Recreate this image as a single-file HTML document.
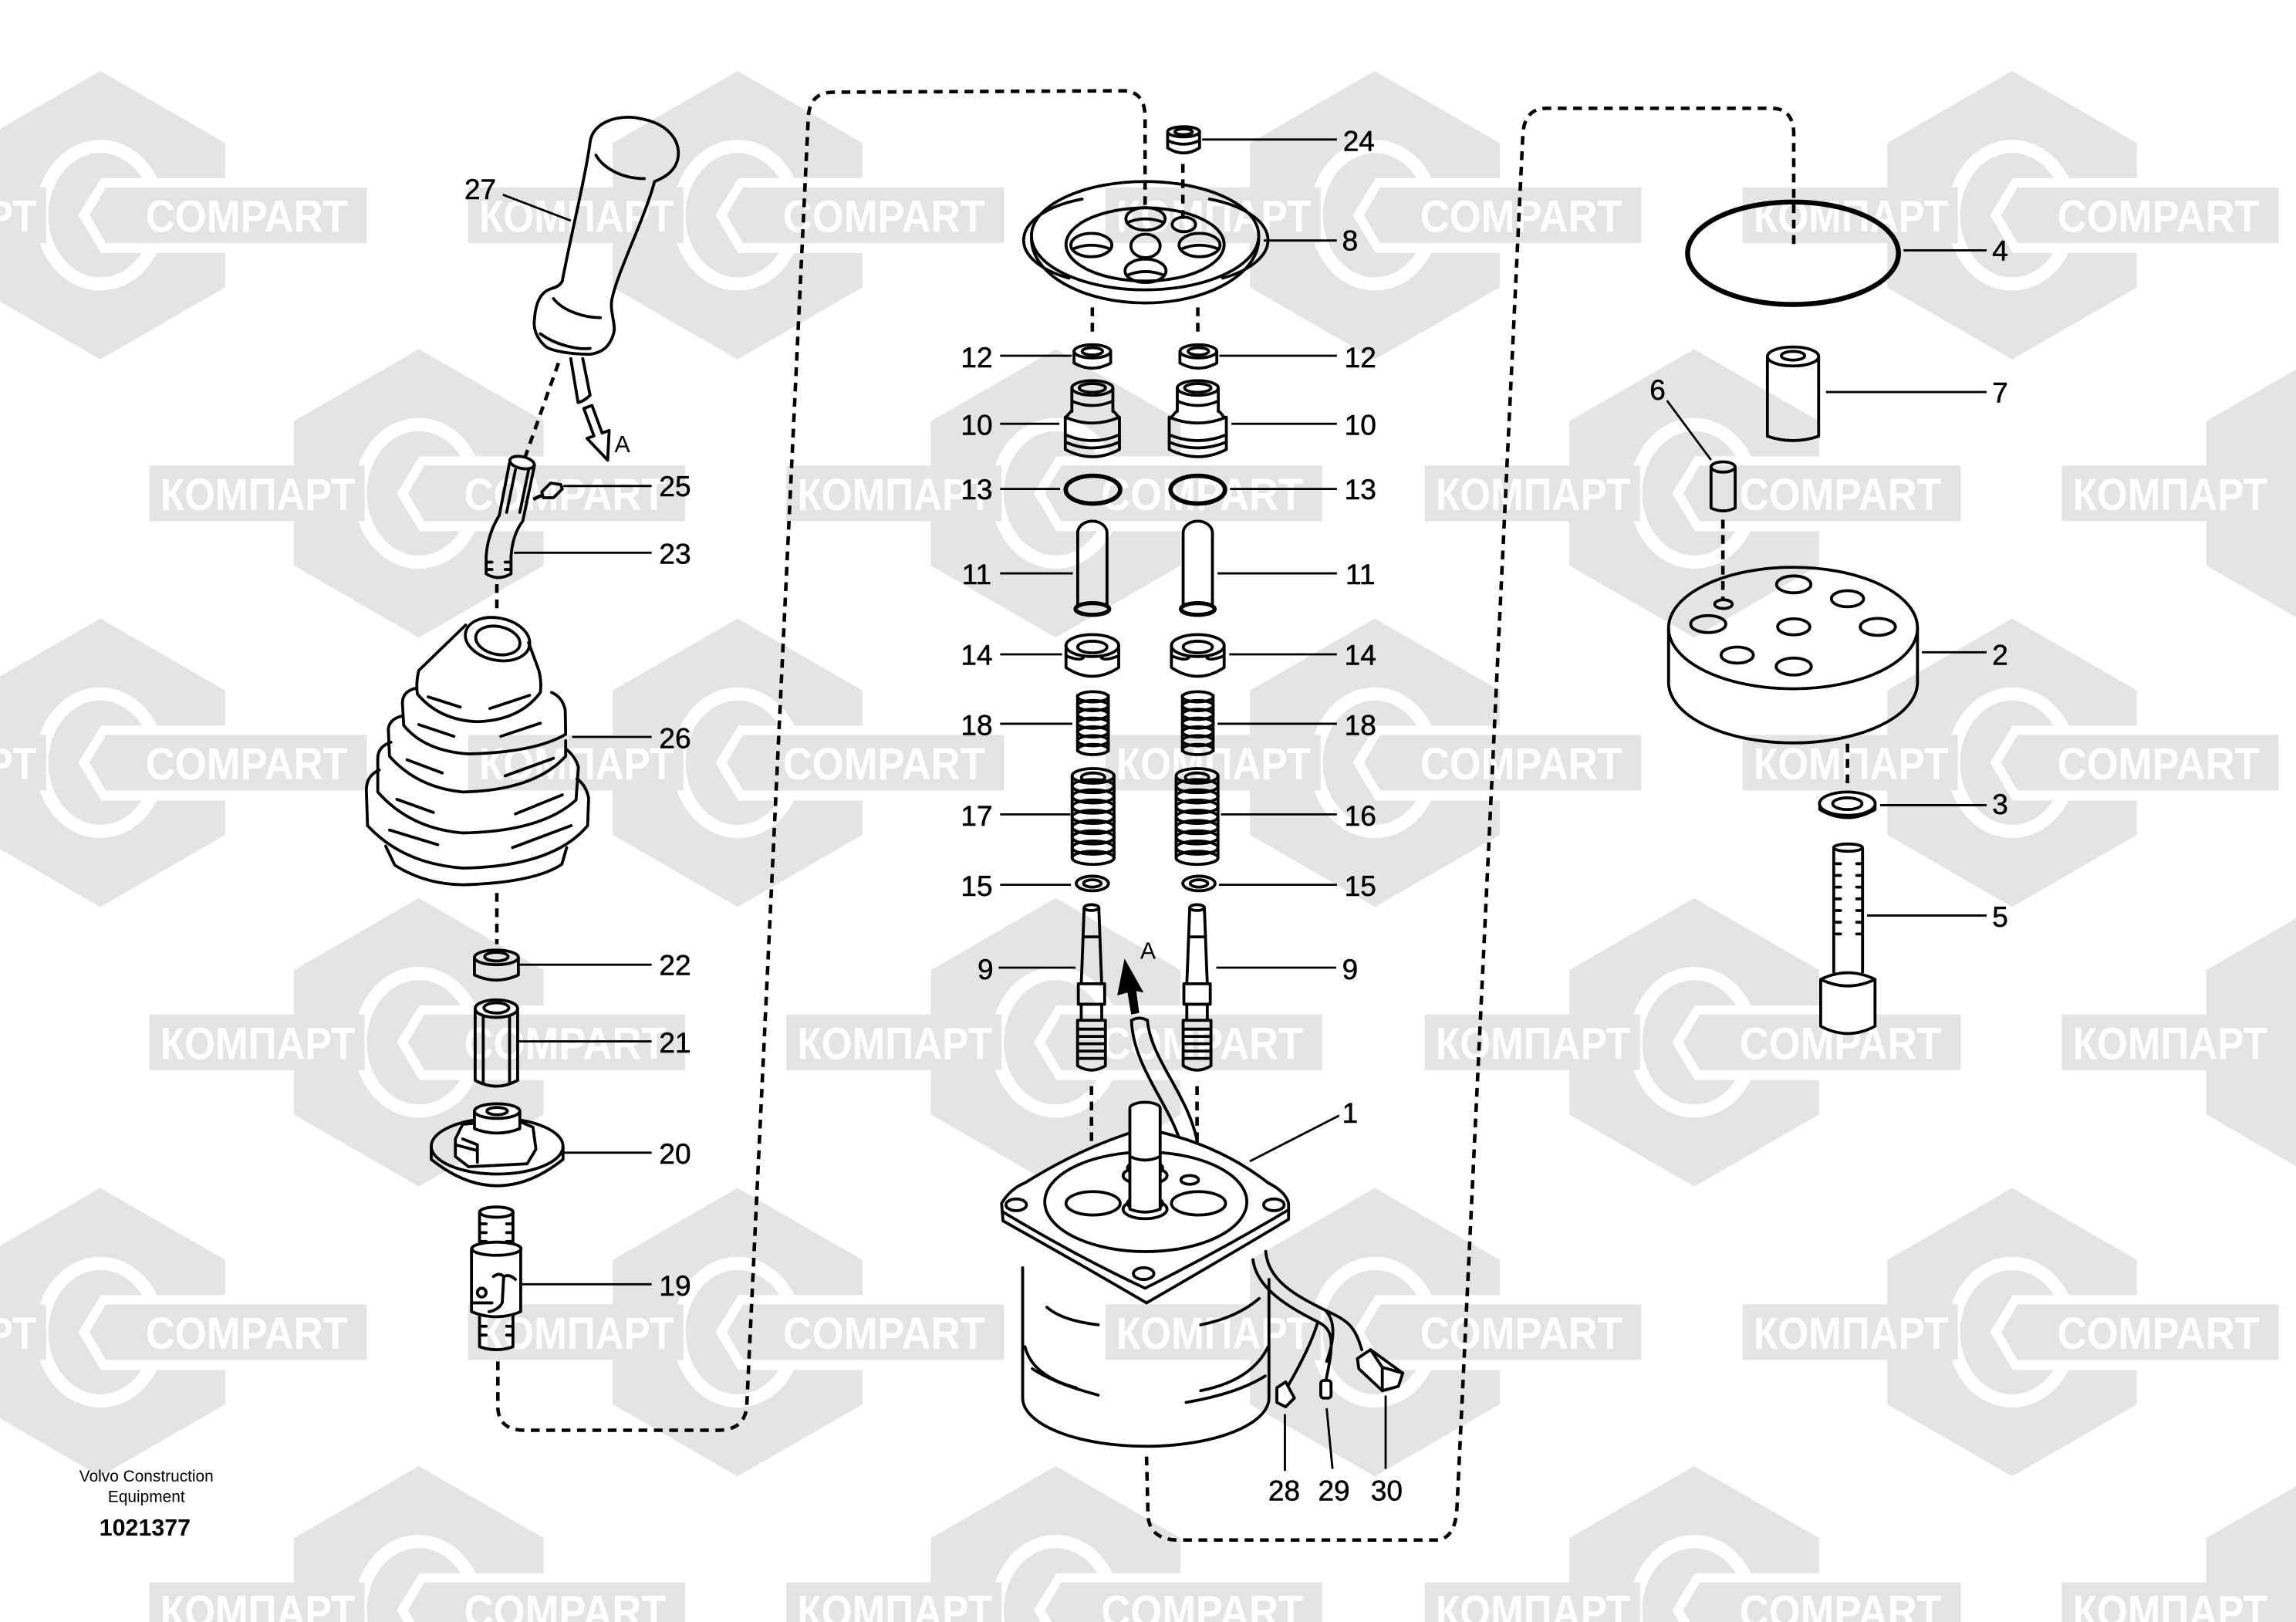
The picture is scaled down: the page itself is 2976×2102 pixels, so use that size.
<!DOCTYPE html>
<html><head><meta charset="utf-8"><style>
html,body{margin:0;padding:0;background:#fff;overflow:hidden;width:2976px;height:2102px;position:relative}
svg{display:block;position:absolute;left:0;top:0}
.h{fill:#e4e4e4}
.w{fill:#fff}
.r{fill:none;stroke:#fff;stroke-width:9}
.t{font-family:"Liberation Sans",sans-serif;font-weight:bold;font-size:31px;fill:#fff;text-anchor:middle}
.p{fill:none;stroke:#000;stroke-width:2;stroke-linejoin:round;stroke-linecap:round}
.pw{fill:#fff;stroke:#000;stroke-width:2;stroke-linejoin:round}
.ld{fill:none;stroke:#000;stroke-width:1.5}
.d{fill:none;stroke:#000;stroke-width:2.4;stroke-dasharray:6 4.5}
.l{font-family:"Liberation Sans",sans-serif;font-size:19.5px;fill:#000;text-anchor:middle;stroke:#000;stroke-width:0.3}
</style></head><body>
<svg width="2976" height="2102" viewBox="0 0 1568 1108" preserveAspectRatio="none" xmlns="http://www.w3.org/2000/svg">
<rect width="1568" height="1108" fill="#fff"/>
<g id="wm">
<g transform="translate(68.5,147)"><polygon class="h" points="0,-98.5 85.3,-49.3 85.3,49.3 0,98.5 -85.3,49.3 -85.3,-49.3"/><ellipse class="r" rx="40" ry="47"/><polygon class="w" points="-15,0 0.5,-25.3 86,-25.3 86,25.8 0.5,25.8"/><polygon class="h" points="-7.4,0 3.7,-19 182,-19 182,19 3.7,19"/><text class="t" x="100" y="11.5" textLength="138" lengthAdjust="spacingAndGlyphs">COMPART</text><rect class="h" x="-184" y="-19" width="147" height="38"/><text class="t" x="-110" y="11.5" textLength="133" lengthAdjust="spacingAndGlyphs">КОМПАРТ</text></g>
<g transform="translate(503.7,147)"><polygon class="h" points="0,-98.5 85.3,-49.3 85.3,49.3 0,98.5 -85.3,49.3 -85.3,-49.3"/><ellipse class="r" rx="40" ry="47"/><polygon class="w" points="-15,0 0.5,-25.3 86,-25.3 86,25.8 0.5,25.8"/><polygon class="h" points="-7.4,0 3.7,-19 182,-19 182,19 3.7,19"/><text class="t" x="100" y="11.5" textLength="138" lengthAdjust="spacingAndGlyphs">COMPART</text><rect class="h" x="-184" y="-19" width="147" height="38"/><text class="t" x="-110" y="11.5" textLength="133" lengthAdjust="spacingAndGlyphs">КОМПАРТ</text></g>
<g transform="translate(938.9,147)"><polygon class="h" points="0,-98.5 85.3,-49.3 85.3,49.3 0,98.5 -85.3,49.3 -85.3,-49.3"/><ellipse class="r" rx="40" ry="47"/><polygon class="w" points="-15,0 0.5,-25.3 86,-25.3 86,25.8 0.5,25.8"/><polygon class="h" points="-7.4,0 3.7,-19 182,-19 182,19 3.7,19"/><text class="t" x="100" y="11.5" textLength="138" lengthAdjust="spacingAndGlyphs">COMPART</text><rect class="h" x="-184" y="-19" width="147" height="38"/><text class="t" x="-110" y="11.5" textLength="133" lengthAdjust="spacingAndGlyphs">КОМПАРТ</text></g>
<g transform="translate(1374.1,147)"><polygon class="h" points="0,-98.5 85.3,-49.3 85.3,49.3 0,98.5 -85.3,49.3 -85.3,-49.3"/><ellipse class="r" rx="40" ry="47"/><polygon class="w" points="-15,0 0.5,-25.3 86,-25.3 86,25.8 0.5,25.8"/><polygon class="h" points="-7.4,0 3.7,-19 182,-19 182,19 3.7,19"/><text class="t" x="100" y="11.5" textLength="138" lengthAdjust="spacingAndGlyphs">COMPART</text><rect class="h" x="-184" y="-19" width="147" height="38"/><text class="t" x="-110" y="11.5" textLength="133" lengthAdjust="spacingAndGlyphs">КОМПАРТ</text></g>

<g transform="translate(286,337)"><polygon class="h" points="0,-98.5 85.3,-49.3 85.3,49.3 0,98.5 -85.3,49.3 -85.3,-49.3"/><ellipse class="r" rx="40" ry="47"/><polygon class="w" points="-15,0 0.5,-25.3 86,-25.3 86,25.8 0.5,25.8"/><polygon class="h" points="-7.4,0 3.7,-19 182,-19 182,19 3.7,19"/><text class="t" x="100" y="11.5" textLength="138" lengthAdjust="spacingAndGlyphs">COMPART</text><rect class="h" x="-184" y="-19" width="147" height="38"/><text class="t" x="-110" y="11.5" textLength="133" lengthAdjust="spacingAndGlyphs">КОМПАРТ</text></g>
<g transform="translate(721,337)"><polygon class="h" points="0,-98.5 85.3,-49.3 85.3,49.3 0,98.5 -85.3,49.3 -85.3,-49.3"/><ellipse class="r" rx="40" ry="47"/><polygon class="w" points="-15,0 0.5,-25.3 86,-25.3 86,25.8 0.5,25.8"/><polygon class="h" points="-7.4,0 3.7,-19 182,-19 182,19 3.7,19"/><text class="t" x="100" y="11.5" textLength="138" lengthAdjust="spacingAndGlyphs">COMPART</text><rect class="h" x="-184" y="-19" width="147" height="38"/><text class="t" x="-110" y="11.5" textLength="133" lengthAdjust="spacingAndGlyphs">КОМПАРТ</text></g>
<g transform="translate(1157,337)"><polygon class="h" points="0,-98.5 85.3,-49.3 85.3,49.3 0,98.5 -85.3,49.3 -85.3,-49.3"/><ellipse class="r" rx="40" ry="47"/><polygon class="w" points="-15,0 0.5,-25.3 86,-25.3 86,25.8 0.5,25.8"/><polygon class="h" points="-7.4,0 3.7,-19 182,-19 182,19 3.7,19"/><text class="t" x="100" y="11.5" textLength="138" lengthAdjust="spacingAndGlyphs">COMPART</text><rect class="h" x="-184" y="-19" width="147" height="38"/><text class="t" x="-110" y="11.5" textLength="133" lengthAdjust="spacingAndGlyphs">КОМПАРТ</text></g>
<g transform="translate(1592,337)"><polygon class="h" points="0,-98.5 85.3,-49.3 85.3,49.3 0,98.5 -85.3,49.3 -85.3,-49.3"/><rect class="h" x="-184" y="-19" width="147" height="38"/><text class="t" x="-110" y="11.5" textLength="133" lengthAdjust="spacingAndGlyphs">КОМПАРТ</text></g>

<g transform="translate(68.5,521)"><polygon class="h" points="0,-98.5 85.3,-49.3 85.3,49.3 0,98.5 -85.3,49.3 -85.3,-49.3"/><ellipse class="r" rx="40" ry="47"/><polygon class="w" points="-15,0 0.5,-25.3 86,-25.3 86,25.8 0.5,25.8"/><polygon class="h" points="-7.4,0 3.7,-19 182,-19 182,19 3.7,19"/><text class="t" x="100" y="11.5" textLength="138" lengthAdjust="spacingAndGlyphs">COMPART</text><rect class="h" x="-184" y="-19" width="147" height="38"/><text class="t" x="-110" y="11.5" textLength="133" lengthAdjust="spacingAndGlyphs">КОМПАРТ</text></g>
<g transform="translate(503.7,521)"><polygon class="h" points="0,-98.5 85.3,-49.3 85.3,49.3 0,98.5 -85.3,49.3 -85.3,-49.3"/><ellipse class="r" rx="40" ry="47"/><polygon class="w" points="-15,0 0.5,-25.3 86,-25.3 86,25.8 0.5,25.8"/><polygon class="h" points="-7.4,0 3.7,-19 182,-19 182,19 3.7,19"/><text class="t" x="100" y="11.5" textLength="138" lengthAdjust="spacingAndGlyphs">COMPART</text><rect class="h" x="-184" y="-19" width="147" height="38"/><text class="t" x="-110" y="11.5" textLength="133" lengthAdjust="spacingAndGlyphs">КОМПАРТ</text></g>
<g transform="translate(938.9,521)"><polygon class="h" points="0,-98.5 85.3,-49.3 85.3,49.3 0,98.5 -85.3,49.3 -85.3,-49.3"/><ellipse class="r" rx="40" ry="47"/><polygon class="w" points="-15,0 0.5,-25.3 86,-25.3 86,25.8 0.5,25.8"/><polygon class="h" points="-7.4,0 3.7,-19 182,-19 182,19 3.7,19"/><text class="t" x="100" y="11.5" textLength="138" lengthAdjust="spacingAndGlyphs">COMPART</text><rect class="h" x="-184" y="-19" width="147" height="38"/><text class="t" x="-110" y="11.5" textLength="133" lengthAdjust="spacingAndGlyphs">КОМПАРТ</text></g>
<g transform="translate(1374.1,521)"><polygon class="h" points="0,-98.5 85.3,-49.3 85.3,49.3 0,98.5 -85.3,49.3 -85.3,-49.3"/><ellipse class="r" rx="40" ry="47"/><polygon class="w" points="-15,0 0.5,-25.3 86,-25.3 86,25.8 0.5,25.8"/><polygon class="h" points="-7.4,0 3.7,-19 182,-19 182,19 3.7,19"/><text class="t" x="100" y="11.5" textLength="138" lengthAdjust="spacingAndGlyphs">COMPART</text><rect class="h" x="-184" y="-19" width="147" height="38"/><text class="t" x="-110" y="11.5" textLength="133" lengthAdjust="spacingAndGlyphs">КОМПАРТ</text></g>

<g transform="translate(286,712)"><polygon class="h" points="0,-98.5 85.3,-49.3 85.3,49.3 0,98.5 -85.3,49.3 -85.3,-49.3"/><ellipse class="r" rx="40" ry="47"/><polygon class="w" points="-15,0 0.5,-25.3 86,-25.3 86,25.8 0.5,25.8"/><polygon class="h" points="-7.4,0 3.7,-19 182,-19 182,19 3.7,19"/><text class="t" x="100" y="11.5" textLength="138" lengthAdjust="spacingAndGlyphs">COMPART</text><rect class="h" x="-184" y="-19" width="147" height="38"/><text class="t" x="-110" y="11.5" textLength="133" lengthAdjust="spacingAndGlyphs">КОМПАРТ</text></g>
<g transform="translate(721,712)"><polygon class="h" points="0,-98.5 85.3,-49.3 85.3,49.3 0,98.5 -85.3,49.3 -85.3,-49.3"/><ellipse class="r" rx="40" ry="47"/><polygon class="w" points="-15,0 0.5,-25.3 86,-25.3 86,25.8 0.5,25.8"/><polygon class="h" points="-7.4,0 3.7,-19 182,-19 182,19 3.7,19"/><text class="t" x="100" y="11.5" textLength="138" lengthAdjust="spacingAndGlyphs">COMPART</text><rect class="h" x="-184" y="-19" width="147" height="38"/><text class="t" x="-110" y="11.5" textLength="133" lengthAdjust="spacingAndGlyphs">КОМПАРТ</text></g>
<g transform="translate(1157,712)"><polygon class="h" points="0,-98.5 85.3,-49.3 85.3,49.3 0,98.5 -85.3,49.3 -85.3,-49.3"/><ellipse class="r" rx="40" ry="47"/><polygon class="w" points="-15,0 0.5,-25.3 86,-25.3 86,25.8 0.5,25.8"/><polygon class="h" points="-7.4,0 3.7,-19 182,-19 182,19 3.7,19"/><text class="t" x="100" y="11.5" textLength="138" lengthAdjust="spacingAndGlyphs">COMPART</text><rect class="h" x="-184" y="-19" width="147" height="38"/><text class="t" x="-110" y="11.5" textLength="133" lengthAdjust="spacingAndGlyphs">КОМПАРТ</text></g>
<g transform="translate(1592,712)"><polygon class="h" points="0,-98.5 85.3,-49.3 85.3,49.3 0,98.5 -85.3,49.3 -85.3,-49.3"/><rect class="h" x="-184" y="-19" width="147" height="38"/><text class="t" x="-110" y="11.5" textLength="133" lengthAdjust="spacingAndGlyphs">КОМПАРТ</text></g>

<g transform="translate(68.5,910)"><polygon class="h" points="0,-98.5 85.3,-49.3 85.3,49.3 0,98.5 -85.3,49.3 -85.3,-49.3"/><ellipse class="r" rx="40" ry="47"/><polygon class="w" points="-15,0 0.5,-25.3 86,-25.3 86,25.8 0.5,25.8"/><polygon class="h" points="-7.4,0 3.7,-19 182,-19 182,19 3.7,19"/><text class="t" x="100" y="11.5" textLength="138" lengthAdjust="spacingAndGlyphs">COMPART</text><rect class="h" x="-184" y="-19" width="147" height="38"/><text class="t" x="-110" y="11.5" textLength="133" lengthAdjust="spacingAndGlyphs">КОМПАРТ</text></g>
<g transform="translate(503.7,910)"><polygon class="h" points="0,-98.5 85.3,-49.3 85.3,49.3 0,98.5 -85.3,49.3 -85.3,-49.3"/><ellipse class="r" rx="40" ry="47"/><polygon class="w" points="-15,0 0.5,-25.3 86,-25.3 86,25.8 0.5,25.8"/><polygon class="h" points="-7.4,0 3.7,-19 182,-19 182,19 3.7,19"/><text class="t" x="100" y="11.5" textLength="138" lengthAdjust="spacingAndGlyphs">COMPART</text><rect class="h" x="-184" y="-19" width="147" height="38"/><text class="t" x="-110" y="11.5" textLength="133" lengthAdjust="spacingAndGlyphs">КОМПАРТ</text></g>
<g transform="translate(938.9,910)"><polygon class="h" points="0,-98.5 85.3,-49.3 85.3,49.3 0,98.5 -85.3,49.3 -85.3,-49.3"/><ellipse class="r" rx="40" ry="47"/><polygon class="w" points="-15,0 0.5,-25.3 86,-25.3 86,25.8 0.5,25.8"/><polygon class="h" points="-7.4,0 3.7,-19 182,-19 182,19 3.7,19"/><text class="t" x="100" y="11.5" textLength="138" lengthAdjust="spacingAndGlyphs">COMPART</text><rect class="h" x="-184" y="-19" width="147" height="38"/><text class="t" x="-110" y="11.5" textLength="133" lengthAdjust="spacingAndGlyphs">КОМПАРТ</text></g>
<g transform="translate(1374.1,910)"><polygon class="h" points="0,-98.5 85.3,-49.3 85.3,49.3 0,98.5 -85.3,49.3 -85.3,-49.3"/><ellipse class="r" rx="40" ry="47"/><polygon class="w" points="-15,0 0.5,-25.3 86,-25.3 86,25.8 0.5,25.8"/><polygon class="h" points="-7.4,0 3.7,-19 182,-19 182,19 3.7,19"/><text class="t" x="100" y="11.5" textLength="138" lengthAdjust="spacingAndGlyphs">COMPART</text><rect class="h" x="-184" y="-19" width="147" height="38"/><text class="t" x="-110" y="11.5" textLength="133" lengthAdjust="spacingAndGlyphs">КОМПАРТ</text></g>

<g transform="translate(286,1100)"><polygon class="h" points="0,-98.5 85.3,-49.3 85.3,49.3 0,98.5 -85.3,49.3 -85.3,-49.3"/><ellipse class="r" rx="40" ry="47"/><polygon class="w" points="-15,0 0.5,-25.3 86,-25.3 86,25.8 0.5,25.8"/><polygon class="h" points="-7.4,0 3.7,-19 182,-19 182,19 3.7,19"/><text class="t" x="100" y="11.5" textLength="138" lengthAdjust="spacingAndGlyphs">COMPART</text><rect class="h" x="-184" y="-19" width="147" height="38"/><text class="t" x="-110" y="11.5" textLength="133" lengthAdjust="spacingAndGlyphs">КОМПАРТ</text></g>
<g transform="translate(721,1100)"><polygon class="h" points="0,-98.5 85.3,-49.3 85.3,49.3 0,98.5 -85.3,49.3 -85.3,-49.3"/><ellipse class="r" rx="40" ry="47"/><polygon class="w" points="-15,0 0.5,-25.3 86,-25.3 86,25.8 0.5,25.8"/><polygon class="h" points="-7.4,0 3.7,-19 182,-19 182,19 3.7,19"/><text class="t" x="100" y="11.5" textLength="138" lengthAdjust="spacingAndGlyphs">COMPART</text><rect class="h" x="-184" y="-19" width="147" height="38"/><text class="t" x="-110" y="11.5" textLength="133" lengthAdjust="spacingAndGlyphs">КОМПАРТ</text></g>
<g transform="translate(1157,1100)"><polygon class="h" points="0,-98.5 85.3,-49.3 85.3,49.3 0,98.5 -85.3,49.3 -85.3,-49.3"/><ellipse class="r" rx="40" ry="47"/><polygon class="w" points="-15,0 0.5,-25.3 86,-25.3 86,25.8 0.5,25.8"/><polygon class="h" points="-7.4,0 3.7,-19 182,-19 182,19 3.7,19"/><text class="t" x="100" y="11.5" textLength="138" lengthAdjust="spacingAndGlyphs">COMPART</text><rect class="h" x="-184" y="-19" width="147" height="38"/><text class="t" x="-110" y="11.5" textLength="133" lengthAdjust="spacingAndGlyphs">КОМПАРТ</text></g>
<g transform="translate(1592,1100)"><polygon class="h" points="0,-98.5 85.3,-49.3 85.3,49.3 0,98.5 -85.3,49.3 -85.3,-49.3"/><rect class="h" x="-184" y="-19" width="147" height="38"/><text class="t" x="-110" y="11.5" textLength="133" lengthAdjust="spacingAndGlyphs">КОМПАРТ</text></g>
</g>

<path class="d" d="M340,930 L340,962 Q341,977 358,977 L490,977 Q509,977 510,960 L552,80 Q553,63 569,63 L768,62 Q782,63 782,80 L782,143"/>
<path class="d" d="M783,995 L784,1035 Q785,1052 805,1052 L980,1052 Q994,1052 995,1030 L1040,92 Q1041,74 1056,74 L1210,74 Q1224,74 1225,90 L1225,171"/>
<path class="d" d="M381.4,248 L358.8,311.7 M369.6,338.5 L358.8,343.6 M339.3,399 L339.3,420 M339.3,610 L339.3,645 M807.8,112 L807.8,150 M746,210 L746,231 M818,210 L818,231 M745.4,742 L745.4,820 M817.5,742 L817.5,820 M1176.6,355 L1176.6,409 M1261.7,508 L1261.7,538"/>

<path class="p" d="M403,97 C405,82 425,78 437,81 C455,84 465,95 463,108 C461,118 452,122 447,124 C440,150 422,185 418,204 C416,212 421,222 419,228 C416,238 410,241 403,242 C390,242 378,240 373,237 C367,232 364,225 365,218 C366,205 370,199 377,197 C381,196 383,194 384,192 C390,160 400,120 403,97 Z"/>
<path class="p" d="M407,106 C412,115 425,122 440,122 M378,204 C385,213 400,217 410,217 M369,228 C380,236 395,239 403,238 M389.8,245 L394.8,275 M398,245 L403,270 M394.8,275 Q399,274 403,270"/>
<polygon class="pw" points="398.7,279 404.3,277 411.2,295.8 416,294 415,314.3 400.9,299.5 405.6,297.8"/>
<text x="425" y="309" font-family="Liberation Sans,sans-serif" font-size="16" text-anchor="middle">A</text>
<polygon class="p" points="370,336 376,330 383,331 384,334 378,340 371,340"/>
<path class="p" d="M348,316 L341,352 Q333,365 332,380 L332,392 Q340,397 349,392 L349,380 Q350,365 357,356 L365,318"/>
<ellipse class="p" cx="356.5" cy="316" rx="8.5" ry="4" transform="rotate(12 356.5 316)"/>
<path class="p" d="M352,321 L346,350 M361,321 L355,350 M333,384 L336,384 M345,384 L348,384 M333,389 L336,389 M345,389 L348,389"/>
<ellipse class="p" cx="339.8" cy="436.6" rx="22.3" ry="14.4" transform="rotate(12 339.8 436.6)"/>
<ellipse class="p" cx="340" cy="437.5" rx="15.3" ry="9.5" transform="rotate(12 340 437.5)"/>
<path class="p" d="M318,427 L286,458 Q284,466 285,474 M361,439 L368,458 Q370,466 369,473 M285,474 Q300,492 326,493 Q355,492 369,473"/>
<path class="p" d="M284.5,470 Q275,472 274.8,480 L275.7,495.5 Q290,513 320,515 Q365,514 386.3,501.6 L386,485 Q384,476 376.7,473"/>
<path class="p" d="M275,489 Q266,491 265.2,498 L266,516.6 Q285,538 316,541 Q365,540 386.3,516.6 L386.3,506"/>
<path class="p" d="M267,507 Q258,510 258,518 L258,541 Q280,566 316,569 Q370,568 393.4,546.4 L395,524 Q393,517 387,512"/>
<path class="p" d="M259,526 Q250,530 250.2,540 L251,564 Q275,590 316,593 Q378,592 401.3,564 L402,545 Q400,536 394,532"/>
<path class="p" d="M263.4,578 L269.6,591 Q290,604 316,604.4 Q365,603 383.7,590.4 L387,579"/>
<path class="p" d="M292.4,476 L314.3,483 M334.5,484 L361.7,475 M286,495 L310,503 M342,503 L369,494 M278,519 L302,528 M345,530 L378,518 M271,546 L296,555 M352,556 L384,543 M266,567 L299,577 M350,579 L390,564"/>
<path class="p" d="M324,654 L324,666 Q339,673 354,666 L354,654"/>
<ellipse class="p" cx="339" cy="654" rx="15" ry="5"/><ellipse class="p" cx="339" cy="653.5" rx="8" ry="3"/>
<path class="p" d="M324.5,689 L324.5,738 Q339,746 353.5,738 L353.5,689 M330,694 L330,740 M348,694 L348,740"/>
<ellipse class="p" cx="339" cy="689" rx="14.5" ry="6"/><ellipse class="p" cx="339" cy="688.5" rx="8.5" ry="3.5"/>
<ellipse class="p" cx="339.5" cy="783" rx="45" ry="19"/>
<path class="p" d="M294.5,783 L294.5,792 Q339.5,828 384.5,792 L384.5,783"/>
<path class="pw" d="M311,778 L316,768 L352,765 L364,770 L366,785 L360,795 L320,797 L311,790 Z"/>
<path class="p" d="M316,778 L326,782 L326,794 M311,782 L326,786"/>
<path class="pw" d="M324,759 L324,771 Q339.5,777 355,771 L355,759"/>
<ellipse class="pw" cx="339.5" cy="759" rx="15.5" ry="5"/><ellipse class="p" cx="339.5" cy="759" rx="7" ry="2.5"/>
<path class="p" d="M327.5,828 L327.5,856 M350.3,828 L350.3,856"/>
<ellipse class="p" cx="339" cy="828" rx="11.4" ry="3.5"/>
<path class="p" d="M329,836 L332,836 M329,842 L332,842 M329,848 L332,848 M346,836 L349,836 M346,842 L349,842 M346,848 L349,848"/>
<path class="pw" d="M322,853 L322,896 Q339,903 355.6,896 L355.6,853"/>
<ellipse class="pw" cx="339" cy="853" rx="16.8" ry="4.5"/>
<circle class="p" cx="329" cy="883" r="3"/>
<path class="p" d="M337,872 Q341,869 344,872 L343,890 Q340,895 334,896 M344,872 Q348,870 352,874 M322,890 L336,890"/>
<path class="p" d="M327.5,899 L327.5,920 Q339,924 350.3,920 L350.3,899 M329,906 L332,906 M329,912 L332,912 M346,906 L349,906 M346,912 L349,912"/>

<path class="p" d="M797.4,90 L797.4,101 Q808.3,108 819.2,101 L819.2,90 M797.4,96 Q808.3,101 819.2,96"/>
<ellipse class="p" cx="808.3" cy="90" rx="10.9" ry="3.5"/><ellipse class="p" cx="808.3" cy="90" rx="6" ry="2"/>
<ellipse class="p" cx="782" cy="161" rx="77.6" ry="37"/>
<path class="p" d="M704.4,163 A77.6 44 0 0 0 859.6,163"/>
<path class="p" d="M739,136 A62 30 0 0 0 730,190 M826,136 A62 30 0 0 1 835,190"/>
<ellipse class="p" cx="782" cy="167" rx="54" ry="25"/>
<ellipse class="p" cx="782.3" cy="149.5" rx="13.4" ry="7.7"/><path class="p" d="M770,152 Q782,147 795,152"/>
<ellipse class="p" cx="808.5" cy="153.3" rx="8" ry="5"/>
<ellipse class="p" cx="745.3" cy="167.4" rx="14" ry="8"/><path class="p" d="M733,170 Q745,165 758,170"/>
<ellipse class="p" cx="782.3" cy="168" rx="10" ry="8"/>
<ellipse class="p" cx="819.2" cy="167.4" rx="14" ry="8"/><path class="p" d="M807,170 Q819,165 832,170"/>
<ellipse class="p" cx="782.3" cy="185" rx="14" ry="8"/><path class="p" d="M770,188 Q782,183 795,188"/>
<g><path class="p" d="M733.5,240 L733.5,248 Q746,255 758.5,248 L758.5,240"/><ellipse class="p" cx="746" cy="240" rx="12.5" ry="4.5"/><ellipse class="p" cx="746" cy="240" rx="7" ry="2.5"/></g>
<g><path class="p" d="M805.8,240 L805.8,248 Q818.4,255 831,248 L831,240"/><ellipse class="p" cx="818.4" cy="240" rx="12.5" ry="4.5"/><ellipse class="p" cx="818.4" cy="240" rx="7" ry="2.5"/></g>
<g transform="translate(746,0)"><ellipse class="p" cx="0" cy="265" rx="14" ry="5"/><ellipse class="p" cx="0" cy="265" rx="9" ry="3"/><path class="p" d="M-14,265 L-14,281 M14,265 L14,281 M-14,274 Q0,280 14,274 M-18,285 Q-14,280 -14,281 M18,285 Q14,280 14,281 M-18.5,285 L-18.5,307 Q0,317 18.5,307 L18.5,285 Q0,293 -18.5,285 M-18.5,297 Q0,305 18.5,297 M-18.5,302 Q0,310 18.5,302"/></g>
<g transform="translate(818,0)"><ellipse class="p" cx="0" cy="265" rx="14" ry="5"/><ellipse class="p" cx="0" cy="265" rx="9" ry="3"/><path class="p" d="M-14,265 L-14,281 M14,265 L14,281 M-14,274 Q0,280 14,274 M-18,285 Q-14,280 -14,281 M18,285 Q14,280 14,281 M-19.5,285 L-19.5,307 Q0,317 19.5,307 L19.5,285 Q0,293 -19.5,285 M-19.5,297 Q0,305 19.5,297 M-19.5,302 Q0,310 19.5,302"/></g>
<ellipse cx="746.4" cy="334.5" rx="18.6" ry="9.5" fill="none" stroke="#000" stroke-width="3"/>
<ellipse cx="818" cy="334.5" rx="18.6" ry="9.5" fill="none" stroke="#000" stroke-width="3"/>
<path class="p" d="M736,413 L736,364 A10 8 0 0 1 756,364 L756,413"/><ellipse cx="746" cy="416" rx="11.5" ry="4" fill="none" stroke="#000" stroke-width="2.8"/>
<path class="p" d="M808,413 L808,364 A10 8 0 0 1 828,364 L828,413"/><ellipse cx="818" cy="416" rx="11.5" ry="4" fill="none" stroke="#000" stroke-width="2.8"/>
<g transform="translate(746,0)"><ellipse class="p" cx="0" cy="441" rx="18" ry="7.5"/><ellipse class="p" cx="0" cy="442" rx="10" ry="4"/><path class="p" d="M-18,441 L-18,456 Q0,468 18,456 L18,441 M-18,448 Q-8,452 -6,449 M18,448 Q8,452 6,449"/></g>
<g transform="translate(818,0)"><ellipse class="p" cx="0" cy="441" rx="18" ry="7.5"/><ellipse class="p" cx="0" cy="442" rx="10" ry="4"/><path class="p" d="M-18,441 L-18,456 Q0,468 18,456 L18,441 M-18,448 Q-8,452 -6,449 M18,448 Q8,452 6,449"/></g>
<g transform="translate(746.4,0)"><path class="p" d="M-10.5,475 L-10.5,513 M10.5,475 L10.5,513"/><ellipse class="p" cx="0" cy="476" rx="10.5" ry="3.5"/><ellipse class="p" cx="0" cy="482" rx="10.5" ry="3.5"/><ellipse class="p" cx="0" cy="488" rx="10.5" ry="3.5"/><ellipse class="p" cx="0" cy="494" rx="10.5" ry="3.5"/><ellipse class="p" cx="0" cy="500" rx="10.5" ry="3.5"/><ellipse class="p" cx="0" cy="506" rx="10.5" ry="3.5"/><ellipse class="p" cx="0" cy="512" rx="10.5" ry="3.5"/></g>
<g transform="translate(818,0)"><path class="p" d="M-10.5,475 L-10.5,513 M10.5,475 L10.5,513"/><ellipse class="p" cx="0" cy="476" rx="10.5" ry="3.5"/><ellipse class="p" cx="0" cy="482" rx="10.5" ry="3.5"/><ellipse class="p" cx="0" cy="488" rx="10.5" ry="3.5"/><ellipse class="p" cx="0" cy="494" rx="10.5" ry="3.5"/><ellipse class="p" cx="0" cy="500" rx="10.5" ry="3.5"/><ellipse class="p" cx="0" cy="506" rx="10.5" ry="3.5"/><ellipse class="p" cx="0" cy="512" rx="10.5" ry="3.5"/></g>
<g transform="translate(746.5,0)"><path class="p" d="M-14.3,530 L-14.3,586 M14.3,530 L14.3,586"/><ellipse class="p" cx="0" cy="530" rx="14.3" ry="5"/><ellipse class="p" cx="0" cy="531" rx="8" ry="3"/><ellipse class="p" cx="0" cy="537" rx="14.3" ry="4.5"/><ellipse class="p" cx="0" cy="544" rx="14.3" ry="4.5"/><ellipse class="p" cx="0" cy="551" rx="14.3" ry="4.5"/><ellipse class="p" cx="0" cy="558" rx="14.3" ry="4.5"/><ellipse class="p" cx="0" cy="565" rx="14.3" ry="4.5"/><ellipse class="p" cx="0" cy="572" rx="14.3" ry="4.5"/><ellipse class="p" cx="0" cy="579" rx="14.3" ry="4.5"/><ellipse class="p" cx="0" cy="586" rx="14.3" ry="4.5"/></g>
<g transform="translate(817.5,0)"><path class="p" d="M-14.3,530 L-14.3,586 M14.3,530 L14.3,586"/><ellipse class="p" cx="0" cy="530" rx="14.3" ry="5"/><ellipse class="p" cx="0" cy="531" rx="8" ry="3"/><ellipse class="p" cx="0" cy="537" rx="14.3" ry="4.5"/><ellipse class="p" cx="0" cy="544" rx="14.3" ry="4.5"/><ellipse class="p" cx="0" cy="551" rx="14.3" ry="4.5"/><ellipse class="p" cx="0" cy="558" rx="14.3" ry="4.5"/><ellipse class="p" cx="0" cy="565" rx="14.3" ry="4.5"/><ellipse class="p" cx="0" cy="572" rx="14.3" ry="4.5"/><ellipse class="p" cx="0" cy="579" rx="14.3" ry="4.5"/><ellipse class="p" cx="0" cy="586" rx="14.3" ry="4.5"/></g>
<ellipse class="p" cx="746" cy="603.5" rx="11" ry="5"/><ellipse class="p" cx="746" cy="603.5" rx="6" ry="2.5"/>
<ellipse class="p" cx="818.8" cy="603.5" rx="11" ry="5"/><ellipse class="p" cx="818.8" cy="603.5" rx="6" ry="2.5"/>
<g transform="translate(745.4,0)"><ellipse class="p" cx="0" cy="620" rx="5" ry="2"/><path class="p" d="M-5,620 L-6.5,660 L-7,672 M5,620 L6.5,660 L7,672 M-9,672 L9,672 L9,686 L-9,686 Z M-7,686 L-7,697 M7,686 L7,697 M-9.5,697 L9.5,697 L9.5,728 Q0,734 -9.5,728 Z M-9.5,703 L9.5,703 M-9.5,708 L9.5,708 M-9.5,713 L9.5,713 M-9.5,718 L9.5,718 M-9.5,723 L9.5,723 M-4,640 L4,640"/></g>
<g transform="translate(817.5,0)"><ellipse class="p" cx="0" cy="620" rx="5" ry="2"/><path class="p" d="M-5,620 L-6.5,660 L-7,672 M5,620 L6.5,660 L7,672 M-9,672 L9,672 L9,686 L-9,686 Z M-7,686 L-7,697 M7,686 L7,697 M-9.5,697 L9.5,697 L9.5,728 Q0,734 -9.5,728 Z M-9.5,703 L9.5,703 M-9.5,708 L9.5,708 M-9.5,713 L9.5,713 M-9.5,718 L9.5,718 M-9.5,723 L9.5,723 M-4,640 L4,640"/></g>
<polygon points="772.5,693 778,692 776,677 781,678 768,654.8 763,680 770,678" fill="#000"/>
<text x="784" y="655" font-family="Liberation Sans,sans-serif" font-size="16" text-anchor="middle">A</text>
<path class="p" d="M772.7,697 C774,730 800,755 807.6,785 L807.6,806 M783.6,697 C786,725 814,750 818.5,785 L818.5,806 M772.7,697 Q778,694 783.6,697"/>
<path class="p" d="M698.4,866 L698.4,955 A84.1 33 0 0 0 866.6,955 L866.6,874"/>
<path class="p" d="M700,920 Q705,940 735,948 M820,950 Q855,943 866,920 M705,935 Q720,945 750,953 M810,958 Q845,952 864,940 M715,893 Q725,902 750,905 M820,905 Q845,900 860,887"/>
<path class="pw" d="M684,822 Q690,812 700,808 Q740,783 781,771 Q830,780 866,808 Q878,814 880,822 L880,833 Q835,860 783,890 Q735,862 685,834 Z"/>
<path class="p" d="M685,828 Q735,858 782,880 Q832,855 879,827"/>
<ellipse class="p" cx="694" cy="823" rx="7" ry="4"/><ellipse class="p" cx="870" cy="823" rx="7" ry="4"/><ellipse class="p" cx="781" cy="870" rx="7" ry="4"/>
<ellipse class="p" cx="782.5" cy="821" rx="69" ry="34"/>
<ellipse class="p" cx="746.5" cy="822" rx="18.5" ry="8"/><ellipse class="p" cx="818.5" cy="822" rx="18.5" ry="8"/>
<ellipse class="p" cx="812.5" cy="806" rx="6" ry="3"/>
<ellipse class="pw" cx="782" cy="826" rx="15" ry="6.5"/><ellipse class="pw" cx="782" cy="822" rx="12" ry="5"/>
<ellipse class="pw" cx="782" cy="803" rx="15" ry="6"/><ellipse class="pw" cx="782" cy="798" rx="12" ry="5"/>
<path class="pw" d="M771.6,826 L771.6,757 A10.35 4 0 0 1 792.3,757 L792.3,826 Q782,830 771.6,826 Z"/>
<path class="p" d="M771.6,790 Q782,795 792.3,790"/>
<path class="p" d="M855.7,860.5 C858,880 880,893 900,903 C910,908 912,915 905,945 M864.4,854.8 C866,875 885,885 905,895 C920,902 925,905 930,922 M900,903 Q895,920 880,946 M905,895 Q915,905 906,930"/>
<polygon class="pw" points="872,948 878,944 884,955 878,961 872,958"/>
<rect class="pw" x="902" y="943" width="7" height="12" rx="2"/>
<polygon class="pw" points="927,928 936,922 958,938 955,947 944,950 928,935"/>
<path class="p" d="M936,922 L944,934 L944,950 M944,934 L958,938"/>

<ellipse cx="1224.5" cy="173" rx="72" ry="35" fill="none" stroke="#000" stroke-width="3.4"/>
<path class="p" d="M1207,244 L1207,298 Q1224.5,304 1242,298 L1242,244"/>
<ellipse class="p" cx="1224.5" cy="243.5" rx="17.5" ry="6.5"/><ellipse class="p" cx="1224.5" cy="243" rx="8" ry="3"/>
<path class="p" d="M1168.5,320 L1168.5,347 Q1176.7,351 1185,347 L1185,320"/>
<ellipse class="p" cx="1176.7" cy="319" rx="8.2" ry="3.5"/>
<ellipse class="p" cx="1224.5" cy="429" rx="85" ry="41.5"/>
<path class="p" d="M1139.5,429 L1139.5,466 A85 41.5 0 0 0 1309.5,466 L1309.5,429"/>
<ellipse class="p" cx="1225" cy="399.2" rx="11.7" ry="5.8"/><ellipse class="p" cx="1261.7" cy="409" rx="11" ry="5.5"/><ellipse class="p" cx="1282.4" cy="428.2" rx="12" ry="5.8"/><ellipse class="p" cx="1225" cy="428.2" rx="11" ry="5.5"/><ellipse class="p" cx="1166.6" cy="426.3" rx="12" ry="5.8"/><ellipse class="p" cx="1186.4" cy="447.5" rx="11" ry="5.5"/><ellipse class="p" cx="1225" cy="455.3" rx="12" ry="5.8"/><ellipse class="p" cx="1177" cy="412.7" rx="6" ry="3"/>
<path class="pw" d="M1242.8,549 L1242.8,553 Q1261.6,564 1280.5,553 L1280.5,549"/>
<ellipse class="pw" cx="1261.6" cy="549" rx="19" ry="8"/><ellipse class="p" cx="1261.6" cy="549" rx="10" ry="4"/>
<path class="p" d="M1252.3,580 L1252.3,664 M1272,580 L1272,664"/>
<ellipse class="p" cx="1262.1" cy="579" rx="9.8" ry="2.5"/>
<path class="p" d="M1254,590 L1257,590 M1254,598 L1257,598 M1254,606 L1257,606 M1254,614 L1257,614 M1254,622 L1257,622 M1254,630 L1257,630 M1254,638 L1257,638 M1268,590 L1271,590 M1268,598 L1271,598 M1268,606 L1271,606 M1268,614 L1271,614 M1268,622 L1271,622 M1268,630 L1271,630 M1268,638 L1271,638"/>
<path class="pw" d="M1243.4,669 L1243.4,701 Q1262,711 1280.5,701 L1280.5,669 Q1262,660 1243.4,669 Z"/>
<path class="p" d="M1243.4,669 Q1262,678 1280.5,669"/>

<path class="ld" d="M343.4,133 L389.8,150.7 M384.7,332 L445,332 M351,377.6 L445,377.6 M390.7,503.4 L445,503.4 M354.7,659 L445,659 M353.8,711.4 L445,711.4 M384.6,787.4 L445,787.4 M356.5,877.3 L445,877.3
M821,95.3 L913,95.3 M863,164.3 L913,164.3
M683,243 L732,243 M832.7,243 L913,243 M683,289.5 L723.5,289.5 M841,289.5 L913,289.5 M683,334 L724,334 M840,334 L913,334 M683,391.7 L732.7,391.7 M831.5,391.7 L913,391.7
M683,447 L725.3,447 M839.5,447 L913,447 M683,494.4 L732.3,494.4 M831.5,494.4 L913,494.4 M683,556.3 L731,556.3 M833.8,556.3 L913,556.3 M683,604.4 L731.4,604.4 M832.4,604.4 L913,604.4 M682,661 L734.5,661 M830.6,661 L912.5,661
M853.5,793.3 L914.6,762 M877.5,966 L877.5,1004.8 M906,962 L910,1003.4 M946.3,953.3 L946.3,1003.4
M1300,171 L1356.7,171 M1247,267.8 L1356.7,267.8 M1138.4,273.6 L1168.5,314.2 M1312.5,445.6 L1356.7,445.6 M1284,550 L1356.7,550 M1275,625.4 L1356.7,625.4"/>

<g>
<text class="l" x="328" y="136">27</text><text class="l" x="461" y="339">25</text><text class="l" x="461" y="385">23</text><text class="l" x="461" y="511">26</text><text class="l" x="461" y="666">22</text><text class="l" x="461" y="719">21</text><text class="l" x="461" y="795">20</text><text class="l" x="461" y="885">19</text>
<text class="l" x="928" y="103">24</text><text class="l" x="922" y="171">8</text>
<text class="l" x="667" y="251">12</text><text class="l" x="929" y="251">12</text>
<text class="l" x="667" y="297">10</text><text class="l" x="929" y="297">10</text>
<text class="l" x="667" y="341">13</text><text class="l" x="929" y="341">13</text>
<text class="l" x="667" y="399">11</text><text class="l" x="929" y="399">11</text>
<text class="l" x="667" y="454">14</text><text class="l" x="929" y="454">14</text>
<text class="l" x="667" y="502">18</text><text class="l" x="929" y="502">18</text>
<text class="l" x="667" y="564">17</text><text class="l" x="929" y="564">16</text>
<text class="l" x="667" y="612">15</text><text class="l" x="929" y="612">15</text>
<text class="l" x="673" y="669">9</text><text class="l" x="922" y="669">9</text>
<text class="l" x="922" y="767">1</text>
<text class="l" x="877" y="1025">28</text><text class="l" x="911" y="1025">29</text><text class="l" x="947" y="1025">30</text>
<text class="l" x="1366" y="178">4</text><text class="l" x="1366" y="275">7</text><text class="l" x="1132" y="273">6</text><text class="l" x="1366" y="454">2</text><text class="l" x="1366" y="556">3</text><text class="l" x="1366" y="633">5</text>
</g>
<text x="100" y="1012" font-family="Liberation Sans,sans-serif" font-size="11" text-anchor="middle">Volvo Construction</text>
<text x="100" y="1026" font-family="Liberation Sans,sans-serif" font-size="11" text-anchor="middle">Equipment</text>
<text x="99" y="1049" font-family="Liberation Sans,sans-serif" font-size="16" font-weight="bold" text-anchor="middle">1021377</text>
</svg>
</body></html>
